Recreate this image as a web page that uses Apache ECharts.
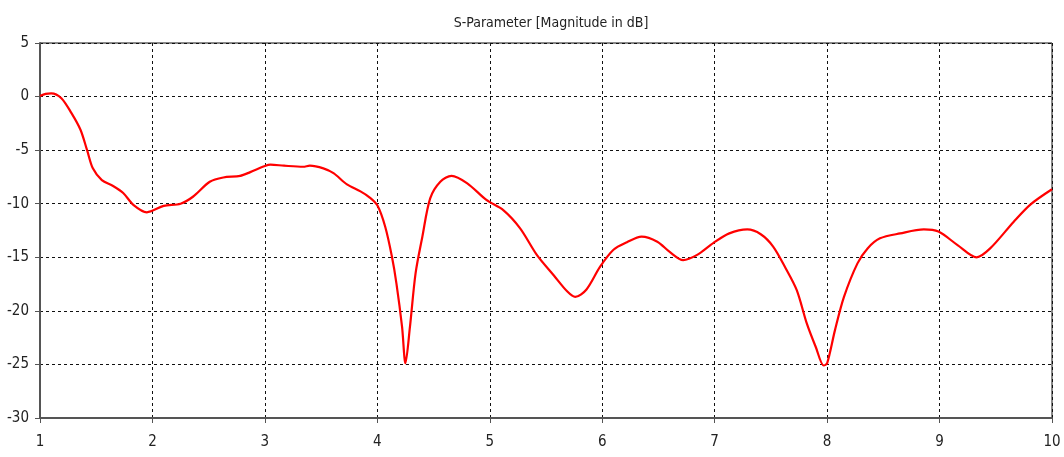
<!DOCTYPE html>
<html>
<head>
<meta charset="utf-8">
<title>S-Parameter [Magnitude in dB]</title>
<script src="https://cdn.jsdelivr.net/npm/echarts@6/dist/echarts.min.js"></script>
<style>
  html, body { margin: 0; padding: 0; background: #fff; }
  #chart { width: 1064px; height: 457px; }
</style>
</head>
<body>
<div id="chart"></div>
<script>
// Frequency samples (GHz) and the S-parameter magnitude (dB) at each one
const freqGHz = [
  1.0, 1.05, 1.1, 1.19, 1.28, 1.36, 1.42, 1.47, 1.55, 1.65, 1.74, 1.83, 1.95,
  2.1, 2.25, 2.36, 2.51, 2.63, 2.78, 2.87, 3.0, 3.05, 3.17, 3.34, 3.4, 3.52,
  3.61, 3.73, 3.85, 3.93, 4.0, 4.07, 4.13, 4.17, 4.22, 4.25, 4.29, 4.34, 4.4,
  4.47, 4.56, 4.66, 4.8, 4.97, 5.12, 5.27, 5.42, 5.57, 5.69, 5.76, 5.86, 5.98,
  6.1, 6.22, 6.35, 6.49, 6.6, 6.72, 6.84, 6.99, 7.13, 7.29, 7.41, 7.52, 7.63,
  7.73, 7.82, 7.9, 7.97, 8.0, 8.07, 8.15, 8.27, 8.36, 8.47, 8.65, 8.86, 8.99,
  9.16, 9.33, 9.45, 9.66, 9.81, 10.0
];
const magDb = [
  0.05, 0.25, 0.3, -0.15, -1.55, -3.1, -5.05, -6.7, -7.8, -8.35, -9.0, -10.1, -10.8,
  -10.2, -10.0, -9.35, -7.95, -7.55, -7.4, -7.05, -6.48, -6.35, -6.45, -6.55, -6.45, -6.7,
  -7.15, -8.2, -8.85, -9.4, -10.15, -12.15, -14.95, -17.45, -21.5, -24.9, -21.5, -16.5, -13.1,
  -9.5, -7.95, -7.4, -8.1, -9.65, -10.6, -12.3, -14.8, -16.7, -18.2, -18.7, -18.0, -15.9,
  -14.3, -13.6, -13.08, -13.55, -14.5, -15.26, -14.8, -13.65, -12.77, -12.4, -12.85, -14.0, -16.0,
  -18.07, -21.2, -23.4, -25.1, -24.9, -21.8, -18.7, -15.57, -14.17, -13.23, -12.77, -12.4, -12.6,
  -13.86, -15.0, -14.17, -11.68, -10.06, -8.65
];
const chartTitle = 'S-Parameter [Magnitude in dB]';

const points = freqGHz.map((f, i) => [f, magDb[i]]);
const labelFont = "Tahoma, 'DejaVu Sans Condensed', 'DejaVu Sans', sans-serif";

const chart = echarts.init(document.getElementById('chart'), null, { renderer: 'canvas' });
chart.setOption({
  animation: false,
  backgroundColor: '#ffffff',
  title: {
    text: chartTitle,
    left: 546,
    textAlign: 'center',
    top: 11,
    textStyle: { fontFamily: labelFont, fontSize: 14, fontWeight: 'normal', color: '#222' }
  },
  grid: {
    left: 40, right: 12, top: 43, bottom: 39,
    show: true, borderColor: '#111', borderWidth: 1, backgroundColor: '#fff'
  },
  xAxis: {
    type: 'value', min: 1, max: 10, interval: 1,
    axisLine: { show: true, onZero: false, lineStyle: { color: '#555', width: 2 } },
    axisTick: { show: true, length: 5, lineStyle: { color: '#555', width: 1 } },
    axisLabel: { fontFamily: labelFont, fontSize: 15, color: '#222', margin: 17 },
    splitLine: { show: true, lineStyle: { color: '#111', type: [3, 3], width: 1 } }
  },
  yAxis: {
    type: 'value', min: -30, max: 5, interval: 5,
    axisLine: { show: true, onZero: false, lineStyle: { color: '#555', width: 2 } },
    axisTick: { show: true, length: 5, lineStyle: { color: '#555', width: 1 } },
    axisLabel: { fontFamily: labelFont, fontSize: 15, color: '#222', margin: 11 },
    splitLine: { show: true, lineStyle: { color: '#111', type: [3, 3], width: 1 } }
  },
  series: [{
    type: 'line',
    data: points,
    smooth: 0.3,
    showSymbol: false,
    lineStyle: { color: '#ff0000', width: 2.2 },
    z: 5
  }]
});
</script>
</body>
</html>
